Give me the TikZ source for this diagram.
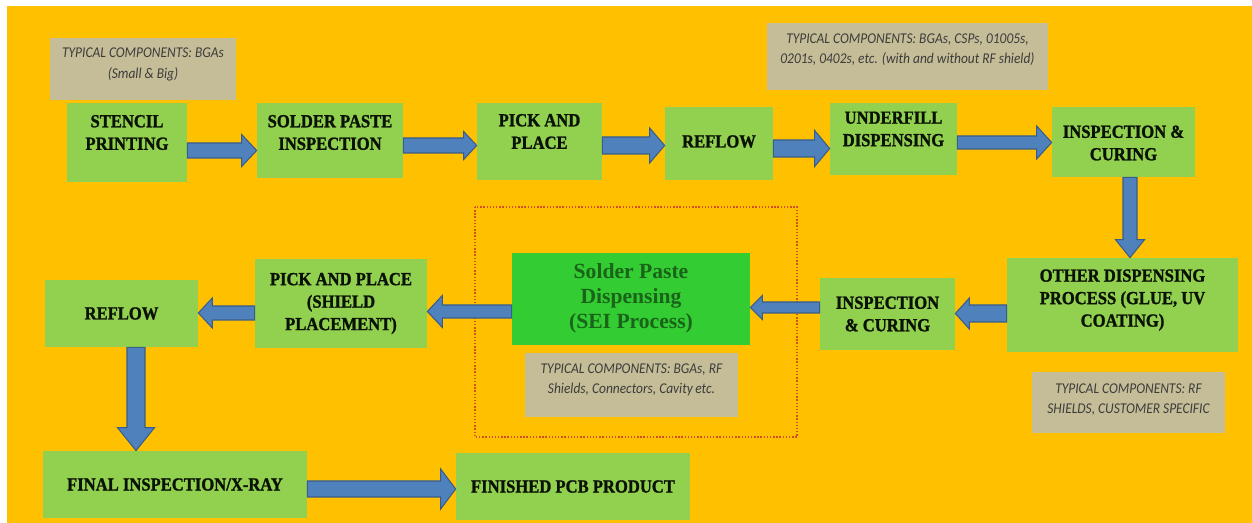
\documentclass[tikz,border=0pt]{standalone}
\usepackage{fontspec}
\setmainfont{Liberation Serif}
\newfontfamily\boxfont{Liberation Serif}[FakeStretch=0.9,BoldFeatures={FakeBold=1.3}]
\newfontfamily\notefont{Carlito}[FakeStretch=0.9]
\usetikzlibrary{calc}
\definecolor{bgorange}{RGB}{255,192,0}
\definecolor{boxgreen}{RGB}{146,208,80}
\definecolor{seigreen}{RGB}{51,204,51}
\definecolor{seitext}{RGB}{25,100,25}
\definecolor{notetan}{RGB}{196,189,151}
\definecolor{notegray}{RGB}{60,60,60}
\definecolor{boxtext}{RGB}{10,18,6}
\definecolor{arrowblue}{RGB}{79,129,189}
\definecolor{arrowedge}{RGB}{56,93,138}
\definecolor{dotred}{RGB}{210,80,40}
\tikzset{
  gbox/.style={fill=boxgreen, draw=none, inner sep=0pt},
  gtext/.style={font=\boxfont\bfseries\fontsize{10.5}{12.8}\selectfont, text=boxtext, align=center},
  sbox/.style={fill=seigreen, draw=none, inner sep=0pt},
  stext/.style={font=\bfseries\fontsize{12.3}{14.2}\selectfont, text=seitext, align=center},
  notebox/.style={fill=notetan, draw=none, inner sep=0pt},
  ntext/.style={font=\notefont\itshape\fontsize{8.5}{11.5}\selectfont, text=notegray, align=center},
  barrow/.style={fill=arrowblue, draw=arrowedge, line width=0.6pt, line join=miter},
}
\newcommand\blockarrow[5]{%
  \coordinate (ba-a) at #1;
  \coordinate (ba-t) at #2;
  \coordinate (ba-b) at ($(ba-t)!#5!(ba-a)$);
  \filldraw[barrow] ($(ba-a)!#3!90:(ba-t)$) -- ($(ba-b)!#3!90:(ba-t)$)
    -- ($(ba-b)!#4!90:(ba-t)$) -- (ba-t) -- ($(ba-b)!#4!-90:(ba-t)$)
    -- ($(ba-b)!#3!-90:(ba-t)$) -- ($(ba-a)!#3!-90:(ba-t)$) -- cycle;
}
\begin{document}
\begin{tikzpicture}[x=0.02cm,y=-0.02cm]
\useasboundingbox (0,0) rectangle (1252,523);
\fill[white] (0,0) rectangle (1252,523);
\fill[bgorange] (7,6) rectangle (1252,523);

% notes
\node[notebox, minimum width=3.72cm, minimum height=1.24cm,
  label={[ntext,yshift=0.09cm]center:{TYPICAL COMPONENTS: BGAs\\(Small \& Big)}}] (n1) at (143,69) {};
\node[notebox, minimum width=5.62cm, minimum height=1.34cm,
  label={[ntext,yshift=0.14cm]center:{TYPICAL COMPONENTS: BGAs, CSPs, 01005s,\\0201s, 0402s, etc. (with and without RF shield)}}] (n2) at (907.5,56.5) {};
\node[notebox, minimum width=3.86cm, minimum height=1.22cm,
  label={[ntext,yshift=0.05cm]center:{TYPICAL COMPONENTS: RF\\SHIELDS, CUSTOMER SPECIFIC}}] (n3) at (1128.5,402.5) {};
\node[notebox, minimum width=4.26cm, minimum height=1.28cm,
  label={[ntext,yshift=0.1cm]center:{TYPICAL COMPONENTS: BGAs, RF\\Shields, Connectors, Cavity\,etc.}}] (n4) at (631.5,385) {};

% top row
\node[gbox, minimum width=2.4cm, minimum height=1.58cm,
  label={[gtext,yshift=0.2cm]center:{STENCIL\\PRINTING}}] (s1) at (127,142.5) {};
\node[gbox, minimum width=2.92cm, minimum height=1.5cm,
  label={[gtext,yshift=0.16cm]center:{SOLDER PASTE\\INSPECTION}}] (s2) at (330,140.5) {};
\node[gbox, minimum width=2.5cm, minimum height=1.54cm,
  label={[gtext,yshift=0.2cm]center:{PICK AND\\PLACE}}] (s3) at (539.5,141.5) {};
\node[gbox, minimum width=2.16cm, minimum height=1.46cm,
  label={[gtext,yshift=0.04cm]center:{REFLOW}}] (s4) at (719,143.5) {};
\node[gbox, minimum width=2.54cm, minimum height=1.44cm,
  label={[gtext,yshift=0.2cm]center:{UNDERFILL\\DISPENSING}}] (s5) at (893.5,139) {};
\node[gbox, minimum width=2.86cm, minimum height=1.4cm,
  label={[gtext,yshift=-0.02cm]center:{INSPECTION \&\\CURING}}] (s6) at (1123.5,142) {};

% middle row
\node[gbox, minimum width=4.62cm, minimum height=1.88cm,
  label={[gtext,yshift=0.1cm]center:{OTHER DISPENSING\\PROCESS (GLUE, UV\\COATING)}}] (s7) at (1122.5,305) {};
\node[gbox, minimum width=2.7cm, minimum height=1.44cm,
  label={[gtext]center:{INSPECTION\\\& CURING}}] (s8) at (887.5,314) {};
\node[sbox, minimum width=4.76cm, minimum height=1.84cm,
  label={[stext,yshift=0.02cm]center:{Solder Paste\\Dispensing\\(SEI Process)}}] (sei) at (631,299) {};
\node[gbox, minimum width=3.44cm, minimum height=1.78cm,
  label={[gtext]center:{PICK AND PLACE\\(SHIELD\\PLACEMENT)}}] (p2) at (341,303.5) {};
\node[gbox, minimum width=3.06cm, minimum height=1.34cm,
  label={[gtext]center:{REFLOW}}] (r2) at (121.5,313.5) {};

% bottom row
\node[gbox, minimum width=5.28cm, minimum height=1.34cm,
  label={[gtext]center:{FINAL INSPECTION/X-RAY}}] (fin) at (175,484.5) {};
\node[gbox, minimum width=4.68cm, minimum height=1.34cm,
  label={[gtext]center:{FINISHED PCB PRODUCT}}] (done) at (573,486.5) {};

% dotted frame
\draw[dotred, densely dotted, line width=0.8pt] (475,207) rectangle (797,437);

% arrow levels
\coordinate (ya1) at (0,150.5);
\coordinate (ya2) at (0,145.5);
\coordinate (ya3) at (0,145.5);
\coordinate (ya4) at (0,148.5);
\coordinate (ya5) at (0,142.5);
\coordinate (xa6) at (1130,0);
\coordinate (ya7) at (0,313.5);
\coordinate (ya8) at (0,307.5);
\coordinate (ya9) at (0,311.5);
\coordinate (ya10) at (0,313);
\coordinate (xa11) at (136,0);
\coordinate (ya12) at (0,489);

\blockarrow{(s1.east |- ya1)}{(s2.west |- ya1)}{0.15cm}{0.32cm}{0.3cm}
\blockarrow{(s2.east |- ya2)}{(s3.west |- ya2)}{0.15cm}{0.28cm}{0.26cm}
\blockarrow{(s3.east |- ya3)}{(s4.west |- ya3)}{0.17cm}{0.35cm}{0.3cm}
\blockarrow{(s4.east |- ya4)}{(s5.west |- ya4)}{0.17cm}{0.36cm}{0.3cm}
\blockarrow{(s5.east |- ya5)}{(s6.west |- ya5)}{0.13cm}{0.33cm}{0.3cm}
\blockarrow{(s6.south -| xa6)}{(s7.north -| xa6)}{0.14cm}{0.29cm}{0.36cm}
\blockarrow{(s7.west |- ya7)}{(s8.east |- ya7)}{0.17cm}{0.31cm}{0.28cm}
\blockarrow{(s8.west |- ya8)}{(sei.east |- ya8)}{0.11cm}{0.24cm}{0.24cm}
\blockarrow{(sei.west |- ya9)}{(p2.east |- ya9)}{0.13cm}{0.32cm}{0.3cm}
\blockarrow{(p2.west |- ya10)}{(r2.east |- ya10)}{0.14cm}{0.3cm}{0.28cm}
\blockarrow{(r2.south -| xa11)}{(fin.north -| xa11)}{0.18cm}{0.37cm}{0.46cm}
\blockarrow{(fin.east |- ya12)}{(done.west |- ya12)}{0.16cm}{0.4cm}{0.3cm}
\end{tikzpicture}
\end{document}
